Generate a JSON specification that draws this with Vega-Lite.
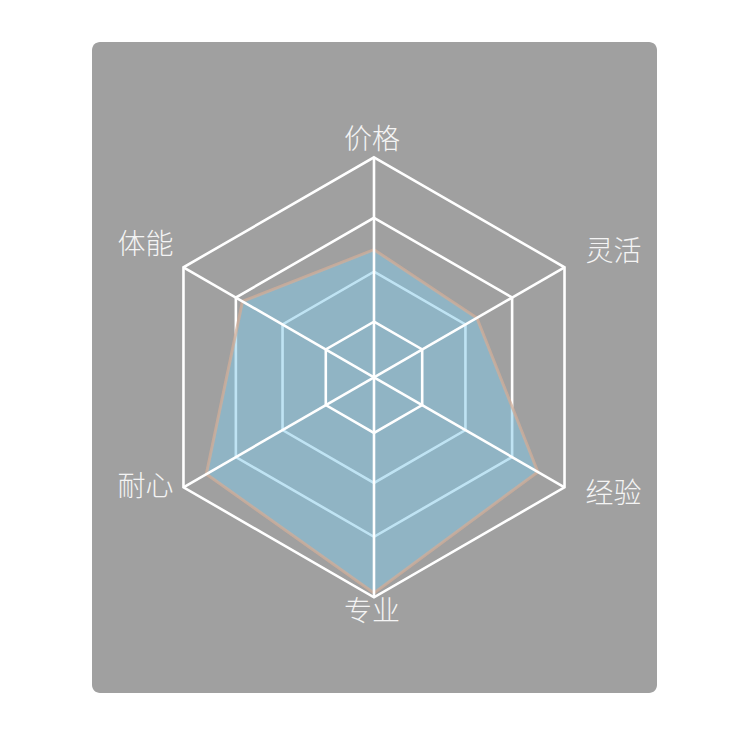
{
  "$schema": "https://vega.github.io/schema/vega-lite/v6.json",
  "description": "Radar chart: 价格 / 灵活 / 经验 / 专业 / 耐心 / 体能",
  "width": 565,
  "height": 651,
  "autosize": "none",
  "padding": {"left": 92, "top": 42, "right": 93, "bottom": 57},
  "background": "white",
  "config": {
    "view": {"fill": "#a0a0a0", "stroke": null, "cornerRadius": 8},
    "text": {"font": "Noto Sans CJK SC", "fontSize": 28, "fontWeight": 300, "color": "#f4f4f4"}
  },
  "datasets": {
    "scores": [
      {"axis": "价格", "deg": 0, "score": 0.58},
      {"axis": "灵活", "deg": 60, "score": 0.54},
      {"axis": "经验", "deg": 120, "score": 0.86},
      {"axis": "专业", "deg": 180, "score": 0.98},
      {"axis": "耐心", "deg": 240, "score": 0.88},
      {"axis": "体能", "deg": 300, "score": 0.69}
    ],
    "levels": [
      {"r": 0.253, "deg": [0, 60, 120, 180, 240, 300]},
      {"r": 0.48, "deg": [0, 60, 120, 180, 240, 300]},
      {"r": 0.725, "deg": [0, 60, 120, 180, 240, 300]},
      {"r": 1, "deg": [0, 60, 120, 180, 240, 300]}
    ]
  },
  "encoding": {
    "x": {"field": "x", "type": "quantitative", "axis": null,
          "scale": {"domain": [-1.2818, 1.2864], "nice": false, "zero": false}},
    "y": {"field": "y", "type": "quantitative", "axis": null,
          "scale": {"domain": [-1.435, 1.524], "nice": false, "zero": false}}
  },
  "layer": [
    {
      "data": {"name": "levels"},
      "transform": [
        {"filter": "datum.r > 0.3"},
        {"flatten": ["deg"]},
        {"calculate": "datum.r * sin(datum.deg * PI / 180)", "as": "x"},
        {"calculate": "datum.r * cos(datum.deg * PI / 180)", "as": "y"}
      ],
      "mark": {"type": "line", "interpolate": "linear-closed", "color": "white", "strokeWidth": 2.6},
      "encoding": {"detail": {"field": "r"}, "order": {"field": "deg"}}
    },
    {
      "data": {"name": "scores"},
      "transform": [
        {"calculate": "datum.score * sin(datum.deg * PI / 180)", "as": "x"},
        {"calculate": "datum.score * cos(datum.deg * PI / 180)", "as": "y"}
      ],
      "mark": {"type": "line", "interpolate": "linear-closed", "fill": "#80c8e8", "fillOpacity": 0.5,
               "stroke": "#d2ae98", "strokeWidth": 3, "strokeOpacity": 0.75},
      "encoding": {"order": {"field": "deg"}}
    },
    {
      "data": {"name": "levels"},
      "transform": [
        {"filter": "datum.r < 0.3"},
        {"flatten": ["deg"]},
        {"calculate": "datum.r * sin(datum.deg * PI / 180)", "as": "x"},
        {"calculate": "datum.r * cos(datum.deg * PI / 180)", "as": "y"}
      ],
      "mark": {"type": "line", "interpolate": "linear-closed", "color": "white", "strokeWidth": 2.6},
      "encoding": {"detail": {"field": "r"}, "order": {"field": "deg"}}
    },
    {
      "data": {"name": "scores"},
      "transform": [
        {"calculate": "sin(datum.deg * PI / 180)", "as": "x"},
        {"calculate": "cos(datum.deg * PI / 180)", "as": "y"}
      ],
      "mark": {"type": "rule", "color": "white", "strokeWidth": 2.6},
      "encoding": {"x2": {"datum": 0}, "y2": {"datum": 0}}
    },
    {
      "data": {"name": "scores"},
      "transform": [
        {"filter": "datum.deg == 0 || datum.deg == 180"},
        {"calculate": "1.073 * sin(datum.deg * PI / 180)", "as": "x"},
        {"calculate": "1.073 * cos(datum.deg * PI / 180)", "as": "y"}
      ],
      "mark": {"type": "text", "align": "center", "baseline": "middle", "dx": -2},
      "encoding": {"text": {"field": "axis"}}
    },
    {
      "data": {"name": "scores"},
      "transform": [
        {"filter": "datum.deg == 60 || datum.deg == 120"},
        {"calculate": "1.1 * sin(datum.deg * PI / 180)", "as": "x"},
        {"calculate": "1.1 * cos(datum.deg * PI / 180)", "as": "y"}
      ],
      "mark": {"type": "text", "align": "left", "baseline": "middle", "dx": 2, "dy": -3},
      "encoding": {"text": {"field": "axis"}}
    },
    {
      "data": {"name": "scores"},
      "transform": [
        {"filter": "datum.deg == 240 || datum.deg == 300"},
        {"calculate": "1.1 * sin(datum.deg * PI / 180)", "as": "x"},
        {"calculate": "1.1 * cos(datum.deg * PI / 180)", "as": "y"}
      ],
      "mark": {"type": "text", "align": "right", "baseline": "middle", "dx": 9, "dy": -10},
      "encoding": {"text": {"field": "axis"}}
    }
  ]
}
